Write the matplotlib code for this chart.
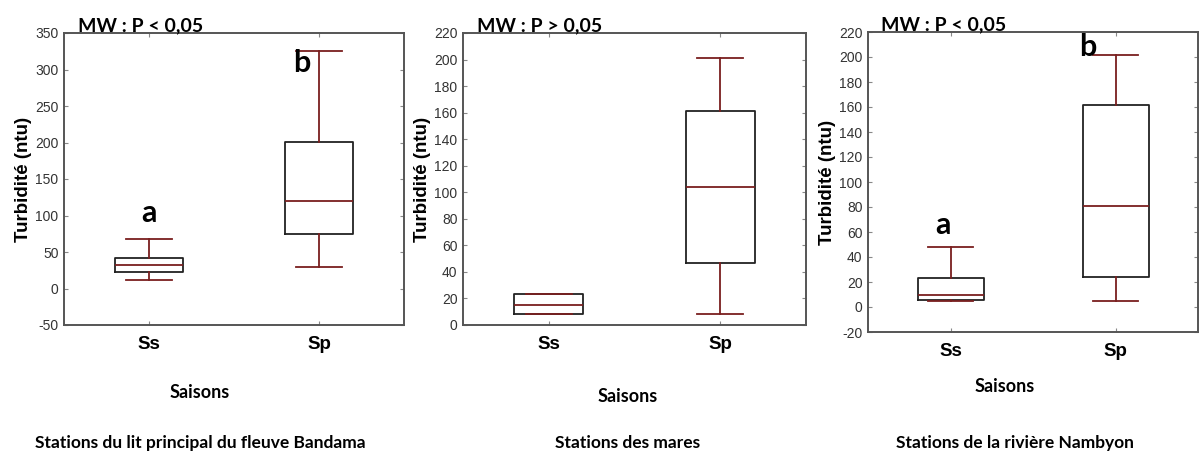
import matplotlib
matplotlib.use("Agg")
import matplotlib.pyplot as plt

plt.rcParams["axes.unicode_minus"] = False

# Saisons
saisons = ["Ss", "Sp"]

# Statistiques des boîtes (min, Q1, médiane, Q3, max) pour chaque groupe de stations
bandama_min = [11, 30]
bandama_q1 = [23, 74]
bandama_med = [32, 120]
bandama_q3 = [42, 201]
bandama_max = [68, 325]

mares_min = [8, 8]
mares_q1 = [8, 47]
mares_med = [15, 104]
mares_q3 = [23, 161]
mares_max = [23, 201]

nambyon_min = [5, 5]
nambyon_q1 = [6, 24]
nambyon_med = [10, 81]
nambyon_q3 = [23, 162]
nambyon_max = [48, 202]

titres_mw = ["MW : P < 0,05", "MW : P > 0,05", "MW : P < 0,05"]
stations = ["Stations du lit principal du fleuve Bandama",
            "Stations des mares",
            "Stations de la rivière Nambyon"]

# lettres de Mann-Whitney (texte, x, y) par panneau
lettres = [[("a", 1.0, 103), ("b", 1.9, 309)],
           [],
           [("a", 0.955, 66), ("b", 1.83, 208)]]

W, H = 1201, 455
fig = plt.figure(figsize=(W / 100, H / 100), dpi=100)
fig.patch.set_facecolor("white")

RED = "#7a1f1f"
TXT = ["Lato", "DejaVu Sans"]
ARIAL = ["Liberation Sans", "DejaVu Sans"]


def px_axes(left, right, top, bottom):
    return fig.add_axes([left / W, 1 - bottom / H, (right - left) / W, (bottom - top) / H])


def stats(mn, q1, med, q3, mx):
    out = []
    for i in range(len(mn)):
        out.append({"whislo": mn[i], "q1": q1[i], "med": med[i], "q3": q3[i], "whishi": mx[i]})
    return out


panels = [
    (px_axes(64, 404, 33, 325), stats(bandama_min, bandama_q1, bandama_med, bandama_q3, bandama_max),
     (-50, 350), range(-50, 351, 50)),
    (px_axes(463, 806, 33, 325), stats(mares_min, mares_q1, mares_med, mares_q3, mares_max),
     (0, 220), range(0, 221, 20)),
    (px_axes(868, 1198, 32, 332), stats(nambyon_min, nambyon_q1, nambyon_med, nambyon_q3, nambyon_max),
     (-20, 220), range(-20, 221, 20)),
]

for k, (ax, st, ylim, yt) in enumerate(panels):
    ax.bxp(st, positions=[1, 2], widths=0.4, showfliers=False, patch_artist=False,
           boxprops=dict(color="#222222", linewidth=1.3),
           medianprops=dict(color=RED, linewidth=1.3),
           whiskerprops=dict(color=RED, linewidth=1.3),
           capprops=dict(color=RED, linewidth=1.3),
           capwidths=0.27)
    ax.set_xlim(0.5, 2.5)
    ax.set_ylim(*ylim)
    ax.set_yticks(list(yt))
    ax.set_xticks([1, 2])
    ax.set_xticklabels(saisons, fontsize=13.5, fontweight="bold", family=ARIAL)
    for lab in ax.get_yticklabels():
        lab.set_family(ARIAL)
        lab.set_fontsize(10)
        lab.set_color("#333333")
    ax.tick_params(axis="both", direction="in", length=3, color="#888888",
                   top=True, right=True, pad=4)
    ax.tick_params(axis="x", pad=8)
    for s in ax.spines.values():
        s.set_color("#555555")
        s.set_linewidth(1.4)
    ax.set_ylabel("Turbidité (ntu)", fontsize=13.5, fontweight="bold", family=ARIAL, labelpad=2)
    ax.set_title(titres_mw[k], loc="left", fontsize=14, fontweight="bold", family=TXT, pad=1, x=0.04)
    for txt, lx, ly in lettres[k]:
        ax.text(lx, ly, txt, ha="center", va="center", fontsize=22, fontweight="bold", family=TXT)

# Textes sous les graphiques
saisons_pos = [(200, 393), (628, 397), (1005, 387)]
stations_pos = [(200, 443), (628, 443), (1015, 443)]
for k in range(3):
    fig.text(saisons_pos[k][0] / W, 1 - saisons_pos[k][1] / H, "Saisons", ha="center", va="center",
             fontsize=13, fontweight="bold", family=TXT)
    fig.text(stations_pos[k][0] / W, 1 - stations_pos[k][1] / H, stations[k], ha="center", va="center",
             fontsize=12.5, fontweight="bold", family=TXT)

fig.savefig("out.png", dpi=100, facecolor="white")
